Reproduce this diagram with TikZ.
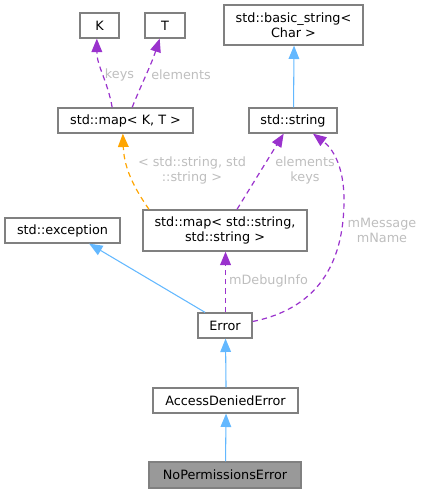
\documentclass[tikz,border=0pt]{standalone}
\usepackage{fontspec}
\setmainfont{DejaVu Sans}
\usepackage{tikz}
\usetikzlibrary{arrows.meta}

\definecolor{boxline}{HTML}{808080}
\definecolor{inhblue}{HTML}{63B8FF}
\definecolor{usepurple}{HTML}{9A32CD}
\definecolor{tmplorange}{HTML}{FFA500}
\definecolor{lblgray}{HTML}{BEBEBE}
\definecolor{curfill}{HTML}{999999}

\begin{document}
\begin{tikzpicture}[x=0.75pt,y=-0.75pt,
    font=\fontsize{9.6}{11.25}\selectfont,
    box/.style={draw=boxline,line width=1pt,fill=white,inner sep=0pt,
        minimum height=18.75pt,align=center},
    inherit/.style={draw=inhblue,line width=0.8pt,-{Triangle[length=10pt,width=8pt]}},
    usage/.style={draw=usepurple,line width=0.9pt,dash pattern=on 4pt off 3pt,
        -{Triangle[length=10pt,width=8pt,fill=usepurple]}},
    tmpl/.style={draw=tmplorange,line width=0.9pt,dash pattern=on 4pt off 3pt,
        -{Triangle[length=10pt,width=8pt,fill=tmplorange]}},
    lbl/.style={text=lblgray,inner sep=0pt,align=center}]
    \useasboundingbox (0,0) rectangle (424,493);
    %The classes, top to bottom
    \node[box,minimum width=29.25pt] (K) at (99.5,25.5) {K};
    \node[box,minimum width=30pt] (T) at (165,25.5) {T};
    \node[box,minimum width=104.25pt,minimum height=30pt] (basicstr) at (293.5,25) {std::basic\_string<\\Char >};
    \node[box,minimum width=101.25pt] (mapKT) at (125.5,120.5) {std::map< K, T >};
    \node[box,minimum width=66pt] (str) at (293,120.5) {std::string};
    \node[box,minimum width=86.25pt] (exc) at (62.5,230.5) {std::exception};
    \node[box,minimum width=123pt,minimum height=30.75pt] (mapSS) at (225,230.5) {std::map< std::string,\\std::string >};
    \node[box,minimum width=40.5pt] (err) at (225,325.5) {Error};
    \node[box,minimum width=108.75pt] (ade) at (225.5,400.5) {AccessDeniedError};
    \node[box,fill=curfill,minimum width=114pt,minimum height=19.5pt] (npe) at (225,475) {NoPermissionsError};
    %Inheritance
    \draw[inherit] ([xshift=0.4pt]str.north) -- ([xshift=0.4pt]basicstr.south);
    \draw[inherit] ([xshift=-15pt]err.north) -- ([xshift=20pt]exc.south);
    \draw[inherit] ([xshift=0.4pt]ade.north) -- ([xshift=0.4pt]err.south);
    \draw[inherit] ([xshift=0.4pt]npe.north) -- ([xshift=0.4pt]ade.south);
    %Members and template arguments
    \draw[usage] ([xshift=-10pt]mapKT.north) to[out=100,in=-90] ([xshift=-2pt]K.south);
    \draw[usage] ([xshift=5pt]mapKT.north) to[out=68,in=-108] ([xshift=-4pt]T.south);
    \draw[tmpl] ([xshift=5pt]mapSS.north west) to[out=125,in=-88] ([xshift=-2pt]mapKT.south);
    \draw[usage] ([xshift=9pt]mapSS.north) -- ([xshift=-7pt]str.south);
    \draw[usage,line width=1.1pt] ([xshift=0.4pt]err.north) -- ([xshift=0.4pt]mapSS.south);
    \draw[usage] ([yshift=3pt]err.east) .. controls (300,312) and (344,282) .. (344,200)
        .. controls (344,165) and (332,148) .. ([xshift=15pt]str.south);
    %Edge labels
    \node[lbl] (keysK) at (119.5,75) {keys};
    \node[lbl] (elemT) at (181,75) {elements};
    \node[lbl] (targs) at (192,170.5) {< std::string, std\\::string >};
    \node[lbl] (elemkeys) at (305,170.5) {elements\\keys};
    \node[lbl] (dbginfo) at (268.5,281) {mDebugInfo};
    \node[lbl] (msgname) at (382,230.5) {mMessage\\mName};
\end{tikzpicture}
\end{document}
